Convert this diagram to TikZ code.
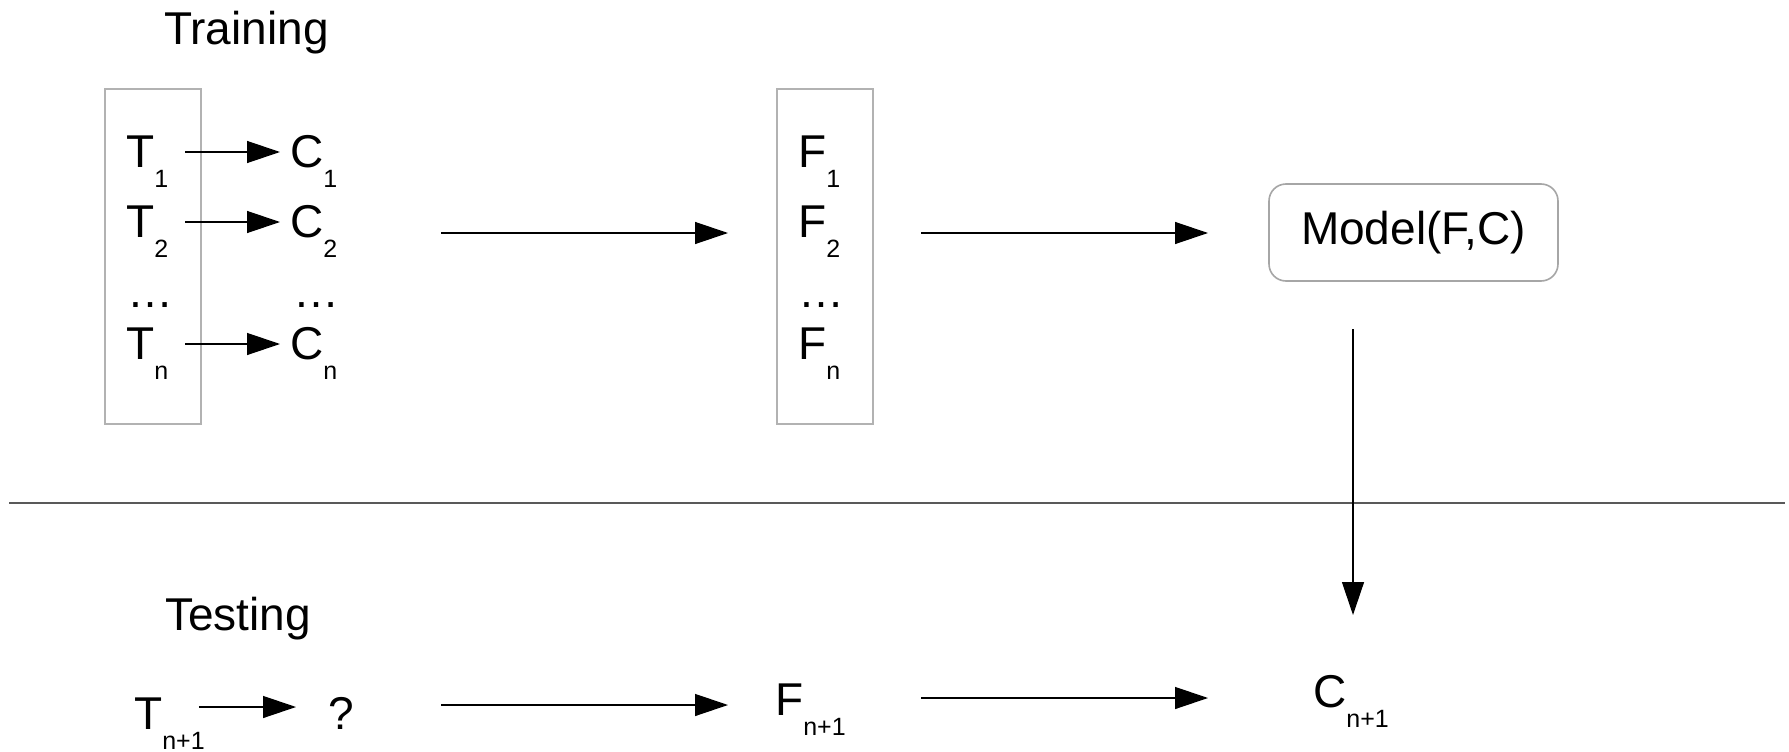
\documentclass[tikz,border=0pt]{standalone}
\usepackage{fontspec}
\setmainfont{Liberation Sans}
\usetikzlibrary{arrows.meta}
\newcommand\lblsub[2]{#1\raisebox{-20pt}{\fontsize{25}{25}\selectfont #2}}
\begin{document}
\begin{tikzpicture}[x=1pt,y=-1pt,
  txt/.style={anchor=base west, inner sep=0pt, font=\fontsize{46}{50}\selectfont},
  frame/.style={draw=black!30, line width=2pt},
  arr/.style={-{Triangle[length=33pt,width=22pt]}, line width=1.3pt, draw=black},
  divider/.style={draw=black!65, line width=2.2pt}]
\useasboundingbox[fill=white] (0,0) rectangle (1789,752);

% Training
\node[txt] (training) at (164,45) {Training};
\node[frame, inner sep=0pt, minimum width=96pt, minimum height=335pt] (lbox) at (153,256.5) {};

\node[txt] (t1) at (126,167) {\lblsub{T}{1}};
\node[txt] (t2) at (126,237) {\lblsub{T}{2}};
\node[txt] (td) at (127,307) {…};
\node[txt] (tn) at (126,359) {\lblsub{T}{n}};

\node[txt] (c1) at (290,167) {\lblsub{C}{1}};
\node[txt] (c2) at (290,237) {\lblsub{C}{2}};
\node[txt] (cd) at (293,307) {…};
\node[txt] (cn) at (290,359) {\lblsub{C}{n}};

\draw[arr] ([shift={(17,-15)}]t1.base east) -- ([shift={(-10,-15)}]c1.base west);
\draw[arr] ([shift={(17,-15)}]t2.base east) -- ([shift={(-10,-15)}]c2.base west);
\draw[arr] ([shift={(17,-15)}]tn.base east) -- ([shift={(-10,-15)}]cn.base west);

\node[frame, inner sep=0pt, minimum width=96pt, minimum height=335pt] (fbox) at (825,256.5) {};
\node[txt] (f1) at (798,167) {\lblsub{F}{1}};
\node[txt] (f2) at (798,237) {\lblsub{F}{2}};
\node[txt] (fd) at (798,307) {…};
\node[txt] (fn) at (798,359) {\lblsub{F}{n}};

\node[draw=black!35, line width=1.6pt, rounded corners=17pt, minimum width=289pt, minimum height=97pt, inner sep=0pt, font=\fontsize{46}{50}\selectfont] (model) at (1413.5,232.5) {Model(F,C)};

\coordinate (a1s) at (441,233);
\coordinate (a1e) at (728,233);
\coordinate (a2s) at (921,233);
\coordinate (a2e) at (1208,233);
\draw[arr] (a1s) -- (a1e);
\draw[arr] (a2s) -- (a2e);

% divider
\coordinate (dl) at (9,503);
\coordinate (dr) at (1785,503);
\draw[divider] (dl) -- (dr);

% Testing
\node[txt] (testing) at (165,630) {Testing};
\node[txt] (tq) at (134,729) {\lblsub{T}{n+1}};
\node[txt] (q) at (328,729) {?};
\node[txt] (fq) at (775,715) {\lblsub{F}{n+1}};
\node[txt] (cq) at (1313,707) {\lblsub{C}{n+1}};

\draw[arr] ([shift={(-6,-22)}]tq.base east) -- ([shift={(-32,-22)}]q.base west);

\coordinate (b1s) at (441,705);
\coordinate (b1e) at (728,705);
\coordinate (b2s) at (921,698);
\coordinate (b2e) at (1208,698);
\draw[arr] (b1s) -- (b1e);
\draw[arr] (b2s) -- (b2e);

\coordinate (ds) at (1353,329);
\coordinate (de) at (1353,615);
\draw[arr] (ds) -- (de);
\end{tikzpicture}
\end{document}
